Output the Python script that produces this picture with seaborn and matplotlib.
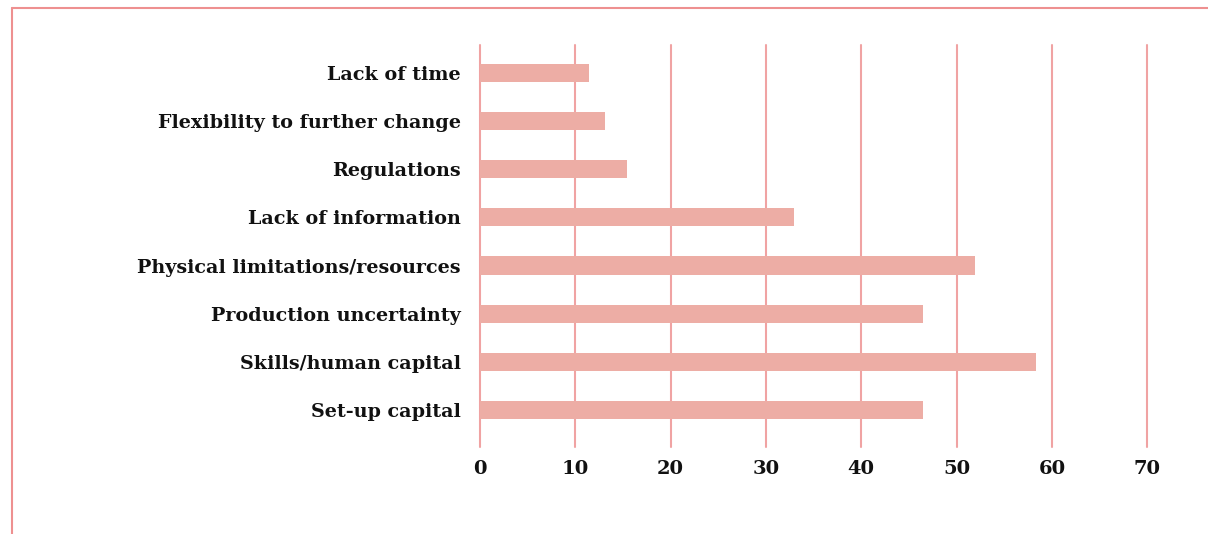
import pandas as pd
import seaborn as sns
import matplotlib.pyplot as plt
from matplotlib.lines import Line2D

# barriers, top to bottom as shown
categories = [
    "Lack of time",
    "Flexibility to further change",
    "Regulations",
    "Lack of information",
    "Physical limitations/resources",
    "Production uncertainty",
    "Skills/human capital",
    "Set-up capital",
]
values = [11.4, 13.1, 15.4, 32.9, 51.9, 46.5, 58.3, 46.5]
x_ticks = [0, 10, 20, 30, 40, 50, 60, 70]

bar_color = "#EDADA5"
line_color = "#F0A3A3"
frame_color = "#EE9090"

df = pd.DataFrame({"category": categories, "value": values})

sns.set_theme(style="white")
plt.rcParams["font.family"] = ["DejaVu Serif"]

fig = plt.figure(figsize=(12.08, 5.34), dpi=100)
ax = fig.add_axes([0.3974, 0.1629, 0.5522, 0.7528])

ax.set_axisbelow(True)
for t in x_ticks:
    ax.axvline(t, color=line_color, linewidth=1.5, zorder=0, clip_on=False)

sns.barplot(data=df, x="value", y="category", orient="h", color=bar_color,
            saturation=1, width=0.375, linewidth=0, ax=ax, zorder=2)

ax.set_xlim(0, 70)
ax.set_ylim(len(categories) - 1 + 0.77, -0.58)
ax.set_xticks(x_ticks)
ax.set_xlabel("")
ax.set_ylabel("")
for s in ax.spines.values():
    s.set_visible(False)
ax.tick_params(axis="both", length=0)
ax.tick_params(axis="x", pad=9, labelsize=14)
ax.tick_params(axis="y", pad=14, labelsize=13.8)
for lab in ax.get_xticklabels() + ax.get_yticklabels():
    lab.set_fontweight("bold")
    lab.set_color("#111111")

# outer frame lines, top and left
fig.add_artist(Line2D([12 / 1208, 1], [1 - 8 / 534, 1 - 8 / 534],
                      transform=fig.transFigure, color=frame_color, linewidth=1.5))
fig.add_artist(Line2D([12 / 1208, 12 / 1208], [0, 1 - 8 / 534],
                      transform=fig.transFigure, color=frame_color, linewidth=1.5))

fig.savefig("out.png", dpi=100)
